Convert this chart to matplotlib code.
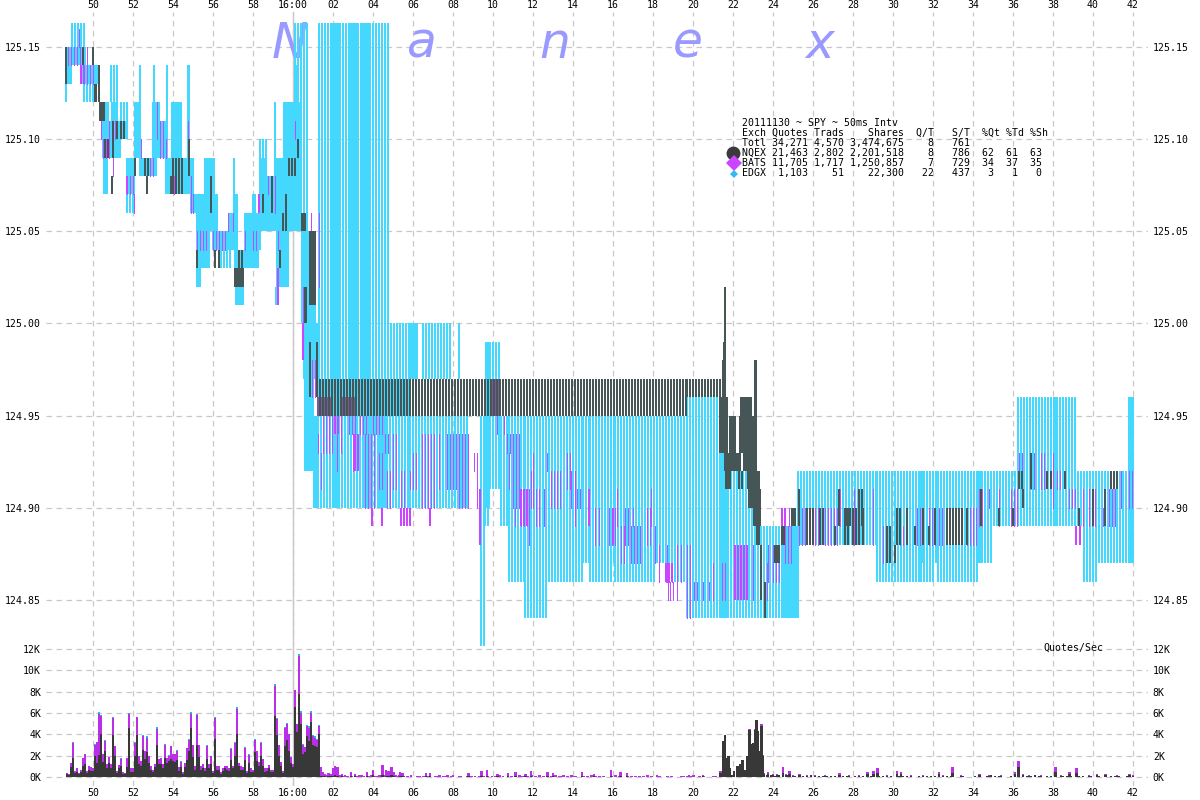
"""Nanex style SPY quote chart, 20111130, with quotes/sec panel underneath."""
import matplotlib
matplotlib.use("Agg")
import matplotlib.pyplot as plt
import numpy as np

W, H = 1200, 800
MONO = "DejaVu Sans Mono"
FS = 7.1

CYAN = "#44d8ff"
DARK = "#465656"
PURPLE = "#c04cff"
BRIGHT = "#cc44ff"
GRID = "#c8c8c8"

# (start, end, low, high) quote ranges, x in axis units relative to 16:00
EDGX_SOLID = [
    (-11.35, -11.05, 125.13, 125.15), (-11.05, -10.4, 125.14, 125.15),
    (-10.6, -9.65, 125.13, 125.14), (-9.55, -9.25, 125.11, 125.12),
    (-9.48, -8.32, 125.10, 125.11), (-9.48, -8.62, 125.09, 125.10),
    (-9.43, -9.25, 125.07, 125.09), (-9.07, -8.8, 125.11, 125.12),
    (-8.32, -7.93, 125.07, 125.09), (-7.9, -7.65, 125.09, 125.12),
    (-7.65, -6.85, 125.08, 125.09), (-6.98, -6.68, 125.09, 125.12),
    (-6.68, -6.32, 125.09, 125.11), (-6.37, -5.58, 125.07, 125.09),
    (-6.07, -5.58, 125.09, 125.12), (-5.58, -4.98, 125.07, 125.09),
    (-5.25, -5.15, 125.09, 125.14), (-5.12, -4.82, 125.06, 125.07),
    (-4.82, -3.82, 125.05, 125.07), (-4.82, -4.22, 125.03, 125.05),
    (-4.82, -4.65, 125.02, 125.03), (-4.4, -3.95, 125.07, 125.09),
    (-3.98, -2.98, 125.04, 125.05), (-3.2, -2.9, 125.05, 125.06),
    (-2.95, -2.78, 125.04, 125.07), (-2.9, -2.48, 125.02, 125.04),
    (-2.85, -2.45, 125.01, 125.02), (-2.4, -1.62, 125.04, 125.06),
    (-2.4, -1.73, 125.03, 125.04), (-1.98, -1.88, 125.06, 125.07),
    (-1.65, -0.98, 125.05, 125.08), (-1.65, -1.3, 125.07, 125.09),
    (-0.98, -0.3, 125.05, 125.07), (-0.9, -0.42, 125.07, 125.09),
    (-0.45, -0.3, 125.03, 125.12), (-0.82, -0.25, 125.02, 125.05),
    (-0.25, 0.35, 125.05, 125.12), (0.1, 0.3, 125.12, 125.14),
    (0.43, 1.1, 125.00, 125.05), (0.55, 1.25, 124.97, 125.00),
    (0.6, 1.05, 124.92, 124.97), (1.05, 1.3, 124.90, 124.95),
    (2.02, 2.35, 124.90, 125.163), (2.85, 3.27, 124.97, 125.163),
    (3.5, 3.85, 124.90, 125.163), (4.3, 4.7, 124.90, 124.97),
    (5.85, 6.2, 124.97, 125.0), (21.4, 21.7, 124.84, 124.93),
    (24.45, 25.25, 124.84, 124.89), (31.35, 31.5, 124.87, 124.92),
    (38.05, 38.15, 124.89, 124.96), (41.8, 42.05, 124.87, 124.96),
    (34.3, 34.4, 124.87, 124.92), (9.65, 9.85, 124.90, 124.99),
]

EDGX_STRIPE = [
    (-11.35, -11.32, 125.12, 125.13), (-11.05, -10.4, 125.15, 125.163),
    (-10.45, -9.9, 125.12, 125.13), (-9.7, -9.65, 125.13, 125.14),
    (-9.1, -8.75, 125.12, 125.14), (-8.62, -8.3, 125.10, 125.12),
    (-8.32, -7.9, 125.06, 125.07), (-7.65, -7.6, 125.09, 125.14),
    (-6.95, -6.9, 125.12, 125.14), (-6.3, -6.25, 125.09, 125.14),
    (-4.98, -4.85, 125.07, 125.09), (-3.6, -3.1, 125.03, 125.04),
    (-2.95, -2.9, 125.07, 125.09), (-1.65, -1.2, 125.09, 125.10),
    (-0.9, -0.8, 125.09, 125.12), (-0.85, -0.8, 125.01, 125.02),
    (0.1, 0.8, 125.14, 125.163), (0.4, 0.8, 125.05, 125.14),
    (1.25, 5.85, 124.90, 124.97), (1.3, 4.75, 124.97, 125.163),
    (4.77, 5.85, 124.97, 125.0),
    (5.85, 8.85, 124.90, 124.97), (6.5, 8.0, 124.97, 125.0),
    (8.3, 8.4, 124.97, 125.0), (9.4, 9.6, 124.825, 124.95),
    (9.6, 9.85, 124.89, 124.95), (9.85, 10.4, 124.91, 124.99),
    (10.4, 10.8, 124.89, 124.95), (10.8, 11.6, 124.86, 124.95),
    (11.6, 12.65, 124.84, 124.95), (12.65, 14.5, 124.86, 124.95),
    (14.5, 14.85, 124.87, 124.95), (14.85, 15.9, 124.86, 124.95),
    (15.9, 16.1, 124.87, 124.95), (16.1, 18.2, 124.86, 124.95),
    (18.2, 18.65, 124.87, 124.95), (18.65, 19.72, 124.86, 124.95),
    (19.72, 21.4, 124.84, 124.96), (21.6, 22.8, 124.84, 124.92),
    (22.8, 23.1, 124.84, 124.90), (23.1, 24.45, 124.84, 124.89),
    (25.25, 29.2, 124.88, 124.92), (29.2, 31.35, 124.86, 124.92),
    (31.4, 32.0, 124.86, 124.92), (32.0, 32.25, 124.87, 124.92),
    (32.25, 34.3, 124.86, 124.92), (34.3, 34.9, 124.87, 124.92),
    (34.9, 36.25, 124.89, 124.92), (36.25, 39.1, 124.89, 124.96),
    (39.1, 39.55, 124.89, 124.92), (39.55, 40.3, 124.86, 124.92),
    (40.3, 41.85, 124.87, 124.92),
]

NQEX_HATCH = [(1.35, 19.72, 124.95, 124.97), (19.72, 21.4, 124.96, 124.97)]

NQEX_STRIPE = [
    (-11.35, -11.25, 125.13, 125.15), (-10.48, -10.45, 125.14, 125.15),
    (-10.0, -9.95, 125.14, 125.15), (-9.7, -9.65, 125.12, 125.14),
    (-9.4, -9.15, 125.09, 125.10), (-9.07, -9.02, 125.07, 125.08),
    (-8.98, -8.95, 125.09, 125.11), (-8.82, -8.8, 125.10, 125.11),
    (-8.62, -8.35, 125.10, 125.11), (-7.9, -7.87, 125.08, 125.09),
    (-7.4, -7.15, 125.08, 125.09), (-7.3, -7.27, 125.07, 125.08),
    (-6.12, -6.08, 125.07, 125.08), (-5.98, -5.4, 125.07, 125.09),
    (-5.18, -5.15, 125.08, 125.10), (-4.82, -4.78, 125.03, 125.04),
    (-4.12, -4.08, 125.06, 125.08), (-3.9, -3.87, 125.03, 125.04),
    (-3.68, -3.65, 125.03, 125.04), (-2.7, -2.52, 125.03, 125.04),
    (-1.48, -1.45, 125.06, 125.07), (-1.07, -1.03, 125.06, 125.08),
    (-0.65, -0.62, 125.03, 125.04), (-0.48, -0.45, 125.05, 125.06),
    (-0.35, -0.32, 125.05, 125.07), (-0.18, 0.18, 125.08, 125.09),
    (0.23, 0.27, 125.09, 125.10), (0.85, 0.95, 124.96, 124.99),
    (1.2, 1.25, 124.96, 124.99), (27.6, 27.77, 124.88, 124.90),
    (28.02, 28.35, 124.88, 124.90), (28.3, 28.47, 124.89, 124.91),
    (28.5, 28.65, 124.88, 124.90), (29.7, 29.85, 124.87, 124.89),
    (30.1, 30.12, 124.87, 124.88), (30.18, 30.35, 124.88, 124.90),
    (30.68, 30.77, 124.88, 124.90), (31.1, 31.12, 124.88, 124.89),
    (31.5, 31.52, 124.88, 124.90), (31.8, 31.82, 124.88, 124.89),
    (32.1, 32.12, 124.88, 124.90), (32.7, 33.55, 124.88, 124.90),
    (33.7, 33.72, 124.88, 124.90), (34.42, 34.45, 124.89, 124.91),
    (35.3, 35.43, 124.89, 124.90), (36.0, 36.02, 124.89, 124.90),
    (36.3, 36.45, 124.91, 124.92), (36.5, 36.65, 124.90, 124.91),
    (36.9, 37.05, 124.91, 124.93), (37.7, 37.72, 124.91, 124.92),
    (37.9, 37.92, 124.91, 124.92), (38.6, 38.62, 124.91, 124.92),
    (39.3, 39.32, 124.89, 124.90), (40.0, 40.02, 124.89, 124.91),
    (40.6, 40.62, 124.89, 124.91), (40.9, 41.25, 124.91, 124.92),
    (25.7, 26.02, 124.88, 124.90), (26.35, 26.6, 124.88, 124.90),
    (27.1, 27.12, 124.88, 124.89), (27.3, 27.32, 124.89, 124.91),
]

NQEX_SOLID = [
    (-9.9, -9.8, 125.12, 125.13), (-9.65, -9.45, 125.11, 125.12),
    (-2.9, -2.48, 125.02, 125.03), (0.43, 0.6, 125.05, 125.06),
    (0.6, 0.68, 125.00, 125.02), (0.85, 1.1, 125.01, 125.05),
    (21.6, 21.62, 124.98, 125.02), (21.55, 21.6, 124.98, 124.99),
    (21.5, 21.65, 124.93, 124.98), (21.35, 21.65, 124.93, 124.96),
    (21.7, 21.72, 124.93, 124.96), (21.6, 22.02, 124.92, 124.93),
    (21.85, 22.15, 124.93, 124.95), (22.05, 22.38, 124.92, 124.93),
    (22.35, 22.37, 124.93, 124.95), (22.4, 22.5, 124.93, 124.96),
    (22.6, 22.75, 124.93, 124.96), (22.8, 22.95, 124.93, 124.96),
    (23.0, 23.02, 124.93, 124.95), (23.1, 23.2, 124.93, 124.98),
    (22.55, 23.2, 124.92, 124.93), (22.75, 23.3, 124.91, 124.92),
    (22.8, 23.4, 124.90, 124.91), (23.05, 23.4, 124.89, 124.90),
    (22.47, 22.5, 124.91, 124.92), (22.3, 22.33, 124.91, 124.92),
    (21.75, 21.85, 124.91, 124.92), (21.65, 21.68, 124.91, 124.92),
    (23.4, 23.43, 124.85, 124.88), (23.6, 23.62, 124.84, 124.86),
    (23.2, 23.3, 124.88, 124.89), (24.45, 24.55, 124.88, 124.89),
    (25.3, 25.32, 124.89, 124.91), (24.95, 25.1, 124.89, 124.90),
    (24.1, 24.35, 124.87, 124.88), (27.68, 27.85, 124.89, 124.90),
]

BATS_STRIPE = [
    (-11.25, -11.05, 125.14, 125.15), (-10.95, -10.48, 125.14, 125.15),
    (-10.68, -10.65, 125.15, 125.16), (-10.28, -10.25, 125.14, 125.15),
    (-10.45, -9.9, 125.13, 125.14), (-9.6, -9.5, 125.10, 125.11),
    (-9.48, -9.15, 125.09, 125.10), (-9.18, -8.8, 125.10, 125.11),
    (-9.0, -8.9, 125.08, 125.09), (-8.32, -7.97, 125.07, 125.08),
    (-7.93, -7.9, 125.06, 125.07), (-7.6, -7.48, 125.09, 125.10),
    (-7.15, -6.9, 125.08, 125.09), (-6.82, -6.78, 125.10, 125.12),
    (-6.65, -6.48, 125.09, 125.11), (-6.37, -6.33, 125.09, 125.10),
    (-5.95, -5.9, 125.07, 125.08), (-5.23, -5.2, 125.10, 125.11),
    (-5.12, -5.08, 125.06, 125.08), (-4.98, -4.88, 125.06, 125.07),
    (-4.78, -4.32, 125.04, 125.05), (-3.98, -3.32, 125.04, 125.05),
    (-3.23, -3.2, 125.05, 125.06), (-2.98, -2.95, 125.05, 125.06),
    (-2.4, -2.37, 125.04, 125.05), (-1.98, -1.73, 125.04, 125.05),
    (-1.27, -1.07, 125.07, 125.08), (-0.9, -0.87, 125.06, 125.08),
    (-0.75, -0.72, 125.04, 125.05), (0.1, 0.18, 125.10, 125.11),
    (0.48, 0.52, 125.00, 125.02), (0.95, 1.1, 124.96, 124.98),
    (0.88, 0.92, 125.05, 125.06), (1.3, 1.33, 125.02, 125.06),
    (1.23, 1.32, 124.93, 124.94), (1.40, 1.52, 124.91, 124.93),
    (1.52, 2.10, 124.93, 124.95), (2.22, 2.35, 124.92, 124.94),
    (2.40, 2.55, 124.93, 124.95), (2.80, 3.10, 124.94, 124.95),
    (3.0, 3.1, 124.92, 124.94), (3.35, 3.68, 124.94, 124.95),
    (3.6, 4.1, 124.90, 124.94), (4.02, 4.52, 124.94, 124.95),
    (4.3, 4.6, 124.91, 124.93), (4.6, 4.85, 124.93, 124.94),
    (4.68, 4.93, 124.90, 124.92), (4.98, 5.27, 124.91, 124.94),
    (5.38, 5.68, 124.90, 124.92), (5.85, 5.87, 124.91, 124.92),
    (5.98, 6.18, 124.91, 124.93), (6.47, 7.1, 124.90, 124.94),
    (7.3, 7.32, 124.91, 124.94), (7.68, 8.18, 124.91, 124.94),
    (8.3, 8.77, 124.90, 124.94), (9.05, 9.07, 124.92, 124.93),
    (9.2, 9.22, 124.90, 124.93), (10.22, 10.35, 124.94, 124.95),
    (10.55, 10.57, 124.94, 124.95), (10.7, 10.85, 124.93, 124.94),
    (10.8, 10.82, 124.91, 124.93), (11.0, 11.35, 124.90, 124.94),
    (11.1, 11.12, 124.89, 124.90), (11.4, 11.77, 124.89, 124.91),
    (11.82, 11.84, 124.88, 124.91), (11.9, 11.92, 124.90, 124.92),
    (12.0, 12.02, 124.90, 124.93), (12.15, 12.35, 124.89, 124.91),
    (12.55, 12.57, 124.89, 124.91), (12.7, 12.72, 124.92, 124.93),
    (12.9, 13.45, 124.90, 124.92), (13.7, 13.85, 124.91, 124.93),
    (13.9, 13.92, 124.90, 124.92), (14.1, 14.12, 124.89, 124.92),
    (14.2, 14.35, 124.90, 124.91), (15.1, 15.12, 124.88, 124.90),
    (15.3, 15.32, 124.88, 124.90), (15.8, 16.18, 124.88, 124.90),
    (16.2, 16.22, 124.89, 124.91), (16.4, 16.68, 124.87, 124.89),
    (16.6, 16.77, 124.88, 124.90), (16.9, 17.35, 124.87, 124.89),
    (17.0, 17.15, 124.89, 124.90), (17.7, 17.85, 124.88, 124.90),
    (17.9, 17.92, 124.89, 124.91), (18.1, 18.25, 124.87, 124.89),
    (18.3, 18.32, 124.86, 124.88), (18.7, 18.72, 124.86, 124.88),
    (18.65, 19.05, 124.86, 124.87), (18.77, 18.79, 124.85, 124.86),
    (18.87, 18.89, 124.85, 124.86), (19.0, 19.02, 124.85, 124.86),
    (19.2, 19.22, 124.85, 124.88), (19.4, 19.42, 124.86, 124.88),
    (19.7, 19.85, 124.84, 124.88), (20.05, 20.25, 124.85, 124.86),
    (20.5, 20.52, 124.85, 124.86), (20.8, 20.82, 124.85, 124.86),
    (21.0, 21.02, 124.85, 124.87), (21.45, 21.68, 124.85, 124.87),
    (23.0, 23.15, 124.85, 124.88), (23.7, 23.72, 124.85, 124.87),
    (23.75, 23.77, 124.86, 124.88), (24.0, 24.35, 124.86, 124.88),
    (24.6, 24.95, 124.87, 124.89), (24.8, 24.82, 124.89, 124.90),
    (25.3, 25.6, 124.88, 124.90), (26.1, 26.35, 124.88, 124.90),
    (26.6, 26.77, 124.88, 124.90), (26.9, 27.27, 124.88, 124.90),
    (27.35, 27.43, 124.89, 124.91), (28.07, 28.15, 124.88, 124.91),
    (29.0, 29.1, 124.88, 124.91), (29.5, 29.52, 124.87, 124.89),
    (30.35, 30.52, 124.88, 124.89), (31.18, 31.43, 124.88, 124.90),
    (31.8, 32.1, 124.88, 124.90), (32.3, 32.52, 124.88, 124.90),
    (33.7, 34.25, 124.88, 124.90), (34.3, 34.52, 124.89, 124.91),
    (34.8, 34.9, 124.90, 124.91), (35.3, 35.32, 124.89, 124.91),
    (35.9, 36.23, 124.89, 124.91), (36.3, 36.55, 124.92, 124.93),
    (36.9, 37.1, 124.91, 124.93), (37.4, 37.65, 124.91, 124.93),
    (38.0, 38.15, 124.90, 124.93), (38.18, 38.45, 124.91, 124.92),
    (38.8, 38.95, 124.90, 124.91), (39.1, 39.12, 124.90, 124.91),
    (39.5, 39.52, 124.89, 124.91), (39.8, 40.15, 124.89, 124.91),
    (40.5, 40.52, 124.89, 124.90), (40.8, 41.1, 124.89, 124.91),
    (41.4, 41.42, 124.90, 124.92), (41.8, 42.02, 124.90, 124.92),
]

BATS_SOLID = [
    (-10.6, -10.45, 125.13, 125.14), (-8.32, -8.2, 125.07, 125.08),
    (-1.68, -1.55, 125.06, 125.07), (0.5, 0.6, 124.98, 125.0),
    (-0.73, -0.65, 125.01, 125.03), (2.10, 2.27, 124.94, 124.95),
    (3.1, 3.27, 124.92, 124.94), (3.97, 3.99, 124.89, 124.90),
    (4.47, 4.49, 124.89, 124.90), (5.38, 5.73, 124.89, 124.90),
    (5.85, 5.87, 124.89, 124.90), (6.85, 6.87, 124.89, 124.90),
    (9.35, 9.45, 124.88, 124.91), (11.4, 11.77, 124.89, 124.91),
    (14.8, 14.9, 124.89, 124.91), (16.0, 16.15, 124.88, 124.90),
    (18.65, 19.05, 124.86, 124.87), (22.1, 22.85, 124.85, 124.88),
    (24.45, 24.6, 124.89, 124.90), (39.15, 39.3, 124.88, 124.89),
    (39.35, 39.38, 124.88, 124.89),
]

# where BATS sits inside the NQEX hatch, the two mix to a muddy purple
HATCH_MIX = [
    (1.25, 2.0, 124.95, 124.96), (2.45, 3.1, 124.95, 124.96),
    (9.9, 10.35, 124.95, 124.97),
]

# quotes/sec in thousands, per bin starting at VOL_START
VOL_START = -11.35
VOL_BIN = 0.1
VOL_TOTAL = [
    .4, .3, 1.3, 3.2, .6, .8, .4, .7, 1.8, 2.2, .6, 1.0, .9, .8, 3.0, 3.3,
    5.9, 5.7, 2.2, 3.4, 1.2, 1.9, 1.2, 5.5, 2.9, .6, 1.1, 1.7, .5, .4, 1.8, 5.9,
    .8, .8, 3.2, 5.6, 2.0, 1.5, 3.8, 2.4, 3.7, 2.0, 1.0, .7, 1.2, 4.5, 1.7, 1.8,
    1.2, 3.0, 1.8, 2.0, 2.9, 2.2, 2.2, 2.4, .9, 1.4, .5, 1.3, 2.7, 3.5, 5.9, 3.0,
    1.0, 5.8, 3.0, 1.0, 1.2, .8, 2.9, 1.2, 2.0, .6, 5.5, 1.0, 1.0, .5, .8, 1.0,
    1.0, .8, 2.6, 1.0, 3.2, 6.4, 1.3, 1.0, .9, 2.7, .6, 2.1, .8, .7, 3.5, 2.4,
    1.4, 3.2, 1.7, .8, .8, 1.1, .7, .7, 8.5, 5.4, 3.0, 1.4, .6, 4.6, 5.0, 4.0,
    1.9, 1.2, 8.2, 5.0, 11.3, 6.0, 3.0, 2.8, 4.8, 4.6, 6.0, 3.8, 3.7, 3.5, 4.8, .9,
]
VOL_NQEX = [
    .3, .2, .9, 1.8, .4, .5, .3, .5, 1.0, 1.2, .4, .7, .6, .6, 2.0, 1.3,
    2.1, 4.0, 1.4, 2.4, .8, 1.3, .8, 3.9, 2.0, .4, .8, 1.0, .3, .3, .9, 4.6,
    .5, .5, 2.0, 3.9, 1.2, 1.0, 2.5, 1.7, 2.3, 1.3, .7, .5, .9, 3.0, 1.2, 1.2,
    .8, 1.8, 1.3, 1.5, 1.7, 1.5, 1.4, 1.6, .6, .9, .3, .9, 1.6, 2.4, 4.6, 1.9,
    .7, 3.0, 1.9, .7, .8, .6, 1.7, .8, 1.2, .4, 3.6, .7, .7, .3, .6, .8,
    .7, .6, 1.6, .8, 2.0, 4.0, 1.0, .7, .7, 1.6, .4, 1.3, .5, .5, 2.3, 1.5,
    1.0, 2.0, 1.0, .5, .6, .8, .5, .5, 5.7, 3.9, 2.0, 1.0, .4, 2.9, 3.5, 2.4,
    1.3, .9, 6.6, 4.2, 7.8, 5.0, 2.2, 2.3, 3.8, 3.4, 5.2, 3.0, 2.9, 2.8, 4.0, .1,
]
VOL_EDGX = [
    0, 0, 0, .1, 0, 0, 0, 0, 0, 0, 0, 0, 0, 0, .1, 0,
    .15, .1, 0, .1, 0, 0, 0, .1, 0, 0, 0, .1, 0, 0, 0, .1,
    0, 0, .1, 0, 0, 0, .1, 0, .1, 0, 0, 0, 0, .2, 0, 0,
    0, .1, 0, .1, 0, 0, 0, .1, 0, .1, 0, 0, 0, .1, .2, 0,
    0, .1, 0, 0, 0, 0, .1, 0, 0, 0, .1, 0, 0, 0, 0, 0,
    0, 0, .1, 0, .1, .2, 0, 0, 0, .1, 0, .1, 0, 0, .1, 0,
    0, .1, 0, 0, 0, 0, 0, 0, .2, .1, 0, 0, 0, .1, .1, 0,
    0, 0, 0, 0, .2, .2, .1, 0, .1, .2, .2, .1, .1, .1, .1, 0,
]

# sparser after 16:01, low activity except the burst around 22-23
LATE_T = [
    1.48, 1.6, 1.77, 1.9, 1.98, 2.1, 2.22, 2.43, 2.6, 2.88, 3.08, 3.25, 3.45,
    3.68, 3.85, 4.02, 4.2, 4.47, 4.65, 4.77, 4.92, 5.02, 5.2, 5.35, 5.47, 5.88,
    6.2, 6.65, 6.85, 7.2, 7.6, 8.0, 8.4, 8.77, 9.1, 9.42, 9.68, 9.95, 10.22,
    10.5, 10.75, 11.12, 11.4, 11.62, 11.88, 12.3, 12.72, 12.98, 13.4, 14.0,
    14.45, 15.05, 15.5, 15.88, 16.37, 16.68, 17.1, 17.72, 18.2, 18.9, 19.4,
    19.78, 20.02, 20.5, 21.0,
    21.35, 21.45, 21.52, 21.6, 21.72, 21.77, 21.85, 21.95, 22.05, 22.18, 22.32,
    22.37, 22.47, 22.57, 22.68, 22.78, 22.82, 22.93, 23.02, 23.12, 23.17, 23.22,
    23.32, 23.42, 23.48, 23.52,
    23.75, 24.0, 24.2, 24.48, 24.65, 24.82, 25.0, 25.32, 25.7, 26.1, 26.6, 27.32,
    27.8, 28.3, 28.72, 29.02, 29.22, 29.7, 30.18, 30.38, 30.9, 31.5, 32.28, 32.5,
    32.97, 33.4, 34.32, 34.8, 35.4, 36.1, 36.27, 36.5, 36.8, 37.4, 38.12, 38.4,
    38.82, 39.17, 39.8, 40.18, 40.62, 41.2, 41.82, 42.0,
]
LATE_NQEX = [
    .1, .05, .1, .05, .1, .15, .1, .05, 0, .1, .05, 0, 0,
    .1, 0, .15, 0, .2, .1, .1, .15, .05, 0, .1, .05, 0,
    0, .05, .05, 0, 0, 0, 0, .05, 0, .1, .1, 0, .05,
    0, .05, .05, 0, .05, .1, 0, .1, .05, 0, 0,
    .1, .05, 0, .1, .05, .05, 0, 0, 0, 0, 0,
    0, 0, .1, 0,
    .4, .4, 3.4, 3.9, 1.8, 2.0, .8, .2, .6, 1.0, 1.0,
    1.2, 1.6, .7, 2.0, 3.0, 4.4, 3.1, 3.2, 4.4, 5.3, 4.3,
    2.4, 4.8, 2.0, .3,
    .25, .15, .2, .4, .15, .3, .1, .15, .1, .1, .1, .2,
    .1, .1, .25, .3, .4, .1, .3, .25, .1, .1, .25, .1,
    .4, .1, .15, .1, .1, .3, .9, .2, .1, .1, .5, .1,
    .25, .4, .1, .15, .15, .1, .15, .05,
]
LATE_BATS = [
    .4, .25, .3, .2, .7, .85, .8, .25, .15, .4, .25, .1, .15,
    .4, .1, .55, .1, .9, .6, .5, .75, .45, .1, .4, .35, .15,
    .1, .3, .35, .1, .1, .15, .1, .35, .1, .5, .6, .1, .25,
    .1, .35, .45, .1, .25, .5, .1, .4, .35, .1, .1,
    .4, .25, .1, .6, .45, .35, .1, .15, .15, .1, .1,
    .2, .2, .1, .1,
    .2, .2, 0, 0, 0, 0, 0, 0, 0, 0, 0,
    0, 0, 0, 0, .1, .1, 0, 0, .1, 0, 0,
    0, .2, .1, .1,
    .25, .1, .1, .5, .1, .3, .1, .15, .1, .1, .1, .2,
    .1, .1, .25, .3, .4, .1, .3, .25, .1, .1, .25, .1,
    .5, .1, .15, .1, .1, .2, .6, .1, .1, .1, .4, .1,
    .25, .4, .1, .15, .15, .1, .15, .1,
]

# thin floor of quotes between the peaks, 0.2 wide bins
FLOOR_BATS_START = 1.3
FLOOR_BATS = [
    .3, .2, .2, .15, .2, .15, .1, .1, .1, .1, .15, .1, .1, .15, .1, .2, .15, .15, .2, .15,
    .15, .1, .05, 0, 0, .05, .1, .1, 0, .1, .15, .1, .15, .05, 0, .05, 0, .05, .05, 0,
    .05, .1, .05, 0, .1, .15, 0, 0, .1, .15, .15, .05, .1, .15, .1, .15, .1, 0, .1, .15,
    .1, .15, .1, .15, .1, 0, .05, .1, .15, .1, .1, .05, 0, .1, .15, .05, 0, .1, .05, .1,
    .05, .1, .15, .1, 0, .05, 0, .05, .1, 0, 0, .05, .1, .05, 0, .05, .05, 0, 0, .05,
]
FLOOR_NQEX_START = 23.5
FLOOR_NQEX = [
    .1, .2, .15, .1, .15, .2, .15, 0, .1, .1, .05, .1, .15, .05, .1, .1, .05, .1, .05, .1,
    .1, .05, 0, .1, .05, .1, .15, .1, 0, .1, .05, .1, .1, 0, .05, .1, .1, .05, 0, .05,
    0, .05, .1, .1, 0, .05, .1, .1, 0, 0, .05, 0, 0, .1, 0, 0, .1, .15, .1, .05,
    0, 0, .05, .1, .1, .1, .05, .1, .15, .05, 0, .1, .05, .1, 0, .05, .1, .1, 0, .05,
    .1, 0, .05, 0, .1, 0, 0, .05, .1, .1, 0, .1,
]

X_TICKS = [-10, -8, -6, -4, -2, 0, 2, 4, 6, 8, 10, 12, 14, 16, 18, 20, 22, 24,
           26, 28, 30, 32, 34, 36, 38, 40, 42]
X_LABELS = ["50", "52", "54", "56", "58", "16:00", "02", "04", "06", "08", "10",
            "12", "14", "16", "18", "20", "22", "24", "26", "28", "30", "32",
            "34", "36", "38", "40", "42"]
PRICE_TICKS = [125.15, 125.10, 125.05, 125.00, 124.95, 124.90, 124.85]
VOL_TICKS = [0, 2, 4, 6, 8, 10, 12]

WATERMARK = ["N", "a", "n", "e", "x"]
TABLE_ROWS = [
    "20111130 ~ SPY ~ 50ms Intv",
    "Exch Quotes Trads    Shares  Q/T   S/T  %Qt %Td %Sh",
    "Totl 34,271 4,570 3,474,675    8   761",
    "NQEX 21,463 2,802 2,201,518    8   786  62  61  63",
    "BATS 11,705 1,717 1,250,857    7   729  34  37  35",
    "EDGX  1,103    51    22,300   22   437   3   1   0",
]


def axes_px(fig, left, top, right, bottom):
    return fig.add_axes([left / W, 1 - bottom / H, (right - left) / W, (bottom - top) / H])


def draw_blocks(ax, blocks, color, step, zorder, px=2):
    """Each block becomes a run of 1 or 2 pixel columns."""
    for t0, t1, low, high in blocks:
        xs = np.arange(t0, max(t1, t0 + 1e-6), step)
        ax.vlines(xs, low, high, colors=color, linewidth=px * 0.72,
                  antialiased=False, zorder=zorder)


def style_axes(ax):
    ax.set_xlim(-12.35, 42.75)
    ax.set_xticks(X_TICKS)
    for s in ax.spines.values():
        s.set_visible(False)
    ax.grid(True, color=GRID, linewidth=0.9, linestyle=(0, (4.5, 3.5)))
    ax.set_axisbelow(True)
    ax.axvline(0, color=GRID, linewidth=1.0, zorder=1)
    ax.tick_params(length=0, labelsize=FS, pad=3.5,
                   left=False, right=False, labelleft=True, labelright=True)


fig = plt.figure(figsize=(12, 8), dpi=100, facecolor="white")
plt.rcParams["font.family"] = MONO

# price panel
ax = axes_px(fig, 46, 12, 1148, 646)
style_axes(ax)
ax.set_ylim(125.15 - 599 / 1843.3, 125.15 + 35 / 1843.3)
ax.set_yticks(PRICE_TICKS)
ax.set_yticklabels([f"{p:.2f}" for p in PRICE_TICKS], family=MONO)
ax.tick_params(axis="x", top=False, bottom=False, labeltop=True, labelbottom=False, pad=1.5)
ax.set_xticklabels(X_LABELS, family=MONO)

draw_blocks(ax, EDGX_STRIPE, CYAN, 0.15, 2)
draw_blocks(ax, EDGX_SOLID, CYAN, 0.05, 2)
draw_blocks(ax, BATS_STRIPE, PURPLE, 0.15, 3, px=1)
draw_blocks(ax, BATS_SOLID, BRIGHT, 0.15, 3)
draw_blocks(ax, NQEX_HATCH, DARK, 0.15, 4)
draw_blocks(ax, HATCH_MIX, "#7a5a9a", 0.05, 3.5)
draw_blocks(ax, NQEX_STRIPE, DARK, 0.15, 4, px=2)
draw_blocks(ax, NQEX_SOLID, DARK, 0.05, 4)

for letter, px in zip(WATERMARK, [290, 422, 555, 688, 820]):
    ax.text(px / W, 1 - 44 / H, letter, transform=fig.transFigure, color="#9999ff",
            fontsize=35, family="DejaVu Sans", style="oblique", ha="center", va="center",
            zorder=1.5)

for row, py in zip(TABLE_ROWS, [123, 133, 143, 153, 163, 173]):
    ax.text(742 / W, 1 - py / H, row, transform=fig.transFigure, fontsize=FS, family=MONO,
            va="center", ha="left", zorder=6)

ax.plot([733 / W], [1 - 153 / H], transform=fig.transFigure, marker="o", ms=10,
        color="#3a3a3a", mew=0, zorder=6, clip_on=False)
ax.plot([734 / W], [1 - 163 / H], transform=fig.transFigure, marker="D", ms=8,
        color=BRIGHT, mew=0, zorder=6, clip_on=False)
ax.plot([734 / W], [1 - 174 / H], transform=fig.transFigure, marker="D", ms=4.5,
        color="#33bbee", mew=0, zorder=6, clip_on=False)

# quotes/sec panel
ax2 = axes_px(fig, 46, 646, 1148, 786)
style_axes(ax2)
ax2.set_ylim(-9 / 10.67, 131 / 10.67)
ax2.set_yticks(VOL_TICKS)
ax2.set_yticklabels([f"{v}K" for v in VOL_TICKS], family=MONO)
ax2.tick_params(axis="x", labelbottom=True, bottom=False, pad=1.5)
ax2.set_xticklabels(X_LABELS, family=MONO)

vol_t = VOL_START + VOL_BIN * np.arange(len(VOL_TOTAL)) + VOL_BIN / 2
nqex = np.array(VOL_NQEX)
total = np.array(VOL_TOTAL)
ax2.bar(vol_t, total - nqex, VOL_BIN, bottom=nqex, color="#bb2ee8", zorder=2)
ax2.bar(vol_t, nqex, VOL_BIN, color="#383838", zorder=3)
ax2.bar(vol_t, VOL_EDGX, VOL_BIN, bottom=total, color="#22bbdd", zorder=3)

floor_bats_t = FLOOR_BATS_START + 0.2 * np.arange(len(FLOOR_BATS))
floor_nqex_t = FLOOR_NQEX_START + 0.2 * np.arange(len(FLOOR_NQEX))
ax2.bar(floor_bats_t, FLOOR_BATS, 0.15, color="#bb2ee8", zorder=2)
ax2.bar(floor_nqex_t, FLOOR_NQEX, 0.12, color="#383838", zorder=3)

late_n = np.array(LATE_NQEX)
ax2.bar(LATE_T, LATE_BATS, 0.11, bottom=late_n, color="#bb2ee8", zorder=2)
ax2.bar(LATE_T, late_n, 0.11, color="#383838", zorder=3)

ax2.text(1043 / W, 1 - 648 / H, "Quotes/Sec", transform=fig.transFigure, fontsize=FS,
         family=MONO, va="center", ha="left")

fig.savefig("out.png", dpi=100, facecolor="white")
